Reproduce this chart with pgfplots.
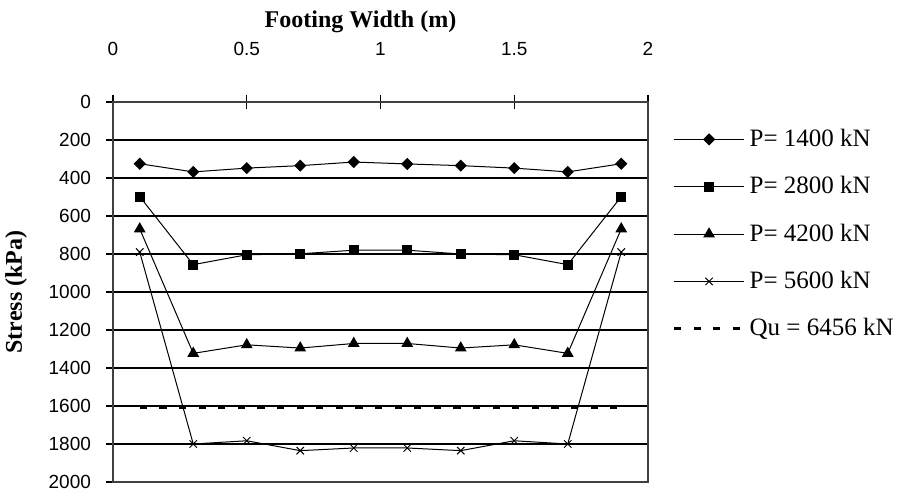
\documentclass[border=0pt]{standalone}
\usepackage{fontspec}
\setmainfont{Liberation Serif}
\setsansfont{Liberation Sans}
\usepackage{pgfplots}
\pgfplotsset{compat=1.18}

\begin{document}
\begin{tikzpicture}
\begin{axis}[
  name=ax,
  scale only axis, width=267.5pt, height=190pt,
  xmin=0, xmax=2, ymin=0, ymax=2000, y dir=reverse,
  xtick={0,0.5,1,1.5,2}, ytick distance=200,
  xtick pos=right, xticklabel pos=right, ytick pos=left,
  tick align=center, major tick length=7pt,
  every tick/.style={black, line width=0.6pt},
  axis line style={black!75, line width=0.8pt},
  ymajorgrids, major grid style={black, line width=0.6pt},
  /pgf/number format/assume math mode=true,
  /pgf/number format/1000 sep={},
  ticklabel style={font=\sffamily\fontsize{9.5}{11}\selectfont},
  yticklabel style={xshift=-4pt},
  xticklabel style={yshift=16pt},
  xlabel={Footing Width (m)},
  xlabel style={font=\bfseries\fontsize{12}{14}\selectfont, xshift=-10pt, yshift=-2pt},
  ylabel={Stress (kPa)},
  ylabel style={font=\bfseries\fontsize{12}{14}\selectfont, yshift=4pt},
  legend cell align=left,
  legend style={draw=none, fill=none, at={(1.045,0.94)}, anchor=north west,
    font=\fontsize{12.5}{14}\selectfont, row sep=9.5pt, inner sep=0pt},
  legend image code/.code={
    \draw[mark repeat=2, mark phase=2, #1] plot coordinates {(0pt,0pt) (17.5pt,0pt) (35pt,0pt)};},
]
% diamonds are drawn as squares turned by 45 degrees
\addplot[black, line width=0.5pt, mark=square*, mark options={rotate=45}, mark size=1.9pt]
  coordinates {(0.1,325) (0.3,368) (0.5,348) (0.7,335) (0.9,316) (1.1,326) (1.3,335) (1.5,348) (1.7,368) (1.9,325)};
\addplot[black, line width=0.5pt, mark=square*, mark size=2.3pt]
  coordinates {(0.1,498) (0.3,856) (0.5,804) (0.7,799) (0.9,780) (1.1,780) (1.3,800) (1.5,804) (1.7,856) (1.9,498)};
\addplot[black, line width=0.5pt, mark=triangle*, mark size=2.9pt]
  coordinates {(0.1,668) (0.3,1323) (0.5,1278) (0.7,1295) (0.9,1271) (1.1,1271) (1.3,1295) (1.5,1278) (1.7,1323) (1.9,668)};
\addplot[black, line width=0.5pt, mark=x, mark size=2.6pt]
  coordinates {(0.1,790) (0.3,1800) (0.5,1783) (0.7,1835) (0.9,1821) (1.1,1821) (1.3,1835) (1.5,1783) (1.7,1800) (1.9,790)};
\addplot[black, line width=1.6pt, dash pattern=on 3.6pt off 6.2pt]
  coordinates {(0.1,1608) (1.9,1608)};
\legend{P= 1400 kN, P= 2800 kN, P= 4200 kN, P= 5600 kN, Qu = 6456 kN}
\end{axis}
\pgfresetboundingbox
\path[use as bounding box] ([shift={(-56.5pt,-4.5pt)}]ax.south west) rectangle ([shift={(126pt,51pt)}]ax.north east);
\end{tikzpicture}
\end{document}
